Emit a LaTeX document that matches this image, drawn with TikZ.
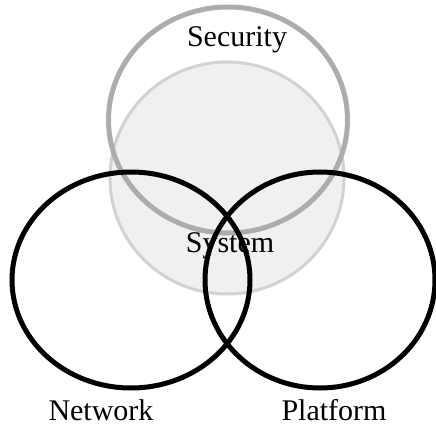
\documentclass[tikz,border=0pt]{standalone}
\usepackage{fontspec}
\setmainfont{Liberation Serif}
\usetikzlibrary{shapes.geometric}

\begin{document}
\begin{tikzpicture}[x=1pt,y=-1pt,
  ring/.style={ellipse,draw,inner sep=0pt,line width=5pt},
  label/.style={font=\fontsize{30}{36}\selectfont}]

\useasboundingbox (0,0) rectangle (436,427);

% ---------------- SECURITY / SYSTEM ----------------

\node[ellipse,inner sep=0pt,draw=gray!35,fill=gray!12,line width=3pt,
  minimum width=234pt,minimum height=232pt] (SYS) at (227,178) {};
\node[ring,draw=gray!65,minimum width=239pt,minimum height=226pt] (SEC) at (228,120) {};

% ---------------- NETWORK / PLATFORM ----------------

\node[ring,minimum width=238pt,minimum height=216pt] (NET) at (131,280) {};
\node[ring,minimum width=230pt,minimum height=216pt] (PLA) at (320,280) {};

% ---------------- LABELS ----------------

\node[label] (Lsec) at (237,40) {Security};
\node[label] (Lsys) at (230,246) {System};
\node[label] (Lnet) at (101,410) {Network};
\node[label] (Lpla) at (334,410) {Platform};

\end{tikzpicture}
\end{document}
